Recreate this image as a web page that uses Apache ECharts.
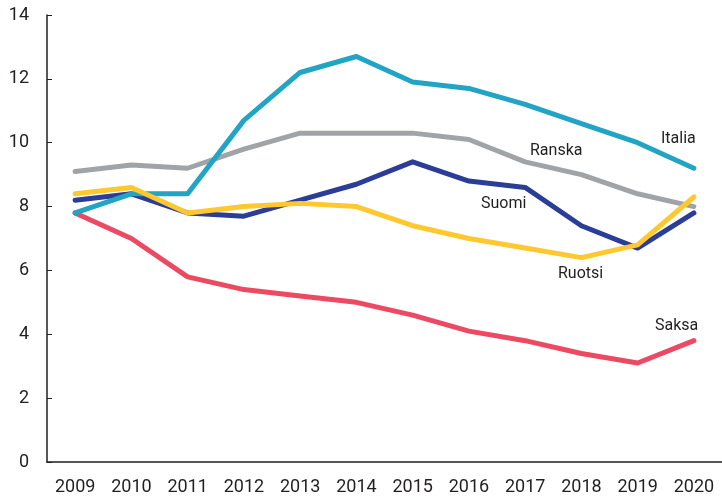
<!DOCTYPE html>
<html>
<head>
<meta charset="utf-8">
<script src="https://cdn.jsdelivr.net/npm/echarts@6/dist/echarts.min.js"></script>
<style>
  html, body { margin: 0; padding: 0; background: #fff; }
  #chart { width: 722px; height: 496px; }
</style>
</head>
<body>
<div id="chart"></div>
<script>
var years = ['2009', '2010', '2011', '2012', '2013', '2014', '2015', '2016', '2017', '2018', '2019', '2020'];
var italia = [7.8, 8.4, 8.4, 10.7, 12.2, 12.7, 11.9, 11.7, 11.2, 10.6, 10.0, 9.2];
var ranska = [9.1, 9.3, 9.2, 9.8, 10.3, 10.3, 10.3, 10.1, 9.4, 9.0, 8.4, 8.0];
var suomi = [8.2, 8.4, 7.8, 7.7, 8.2, 8.7, 9.4, 8.8, 8.6, 7.4, 6.7, 7.8];
var ruotsi = [8.4, 8.6, 7.8, 8.0, 8.1, 8.0, 7.4, 7.0, 6.7, 6.4, 6.8, 8.3];
var saksa = [7.8, 7.0, 5.8, 5.4, 5.2, 5.0, 4.6, 4.1, 3.8, 3.4, 3.1, 3.8];

var textColor = '#231f20';
var fontFam = 'Roboto, "Liberation Sans", sans-serif';

var line = function (name, data, color) {
  return {
    name: name,
    type: 'line',
    data: data,
    symbol: 'none',
    lineStyle: { width: 5, color: color, cap: 'round', join: 'round' },
    itemStyle: { color: color },
    animation: false
  };
};

var label = function (text, left, top) {
  return {
    type: 'text',
    left: left,
    top: top,
    style: { text: text, fill: textColor, font: '16px ' + fontFam }
  };
};

var myChart = echarts.init(document.getElementById('chart'));
var option = {
  backgroundColor: '#fff',
  grid: { left: 47, right: 0, top: 15, bottom: 33 },
  xAxis: {
    type: 'category',
    data: years,
    boundaryGap: true,
    axisLine: { lineStyle: { color: '#231f20', width: 1.5 } },
    axisTick: { inside: true, length: 5, lineStyle: { color: '#231f20' } },
    axisLabel: { color: textColor, fontSize: 18, fontFamily: fontFam, margin: 16 }
  },
  yAxis: {
    type: 'value',
    min: 0,
    max: 14,
    interval: 2,
    axisLine: { show: true, lineStyle: { color: '#231f20', width: 1.5 } },
    axisTick: { show: true, inside: true, length: 5, lineStyle: { color: '#231f20' } },
    splitLine: { show: false },
    axisLabel: { color: textColor, fontSize: 18, fontFamily: fontFam, margin: 18 }
  },
  graphic: [
    label('Italia', 661, 131),
    label('Ranska', 530, 143),
    label('Suomi', 481, 196),
    label('Ruotsi', 558, 266),
    label('Saksa', 655, 318)
  ],
  series: [
    line('Ranska', ranska, '#a1a4a7'),
    line('Suomi', suomi, '#2b3d96'),
    line('Saksa', saksa, '#ec4963'),
    line('Italia', italia, '#22a4c4'),
    line('Ruotsi', ruotsi, '#fec82e')
  ]
};
myChart.setOption(option);
</script>
</body>
</html>
